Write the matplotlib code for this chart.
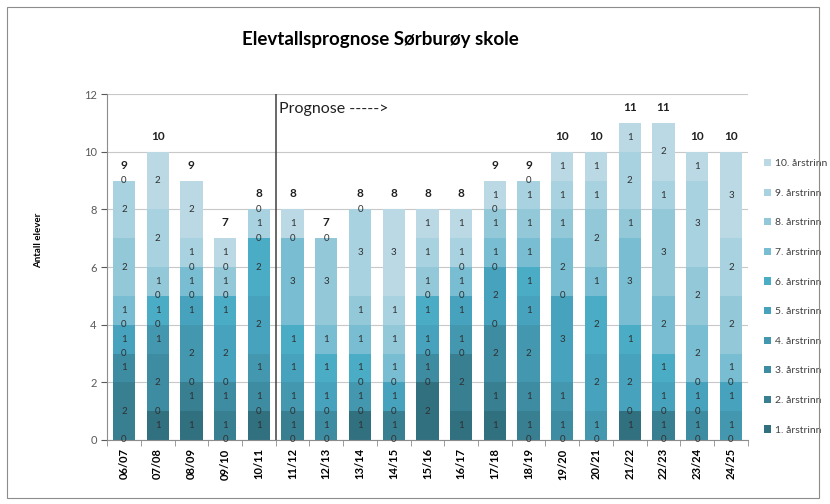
"""
Elevtallsprognose Sørburøy skole - stablede søyler per årstrinn
"""
import matplotlib
matplotlib.use("Agg")
import matplotlib.pyplot as plt
import numpy as np
from matplotlib.patches import Rectangle

plt.rcParams['font.family'] = ['Lato', 'DejaVu Sans']

years = ["06/07", "07/08", "08/09", "09/10", "10/11", "11/12", "12/13", "13/14", "14/15",
         "15/16", "16/17", "17/18", "18/19", "19/20", "20/21", "21/22", "22/23", "23/24", "24/25"]
grades = ["1. årstrinn", "2. årstrinn", "3. årstrinn", "4. årstrinn", "5. årstrinn",
          "6. årstrinn", "7. årstrinn", "8. årstrinn", "9. årstrinn", "10. årstrinn"]

# elever per årstrinn (1..10) for hvert skoleår
trinn1 = [0, 1, 1, 0, 1, 0, 0, 1, 0, 2, 1, 1, 0, 0, 0, 1, 0, 0, 0]
trinn2 = [2, 0, 1, 1, 0, 1, 0, 0, 1, 0, 2, 1, 1, 0, 0, 0, 1, 0, 0]
trinn3 = [1, 2, 0, 1, 1, 0, 1, 0, 0, 1, 0, 2, 1, 1, 0, 0, 0, 1, 0]
trinn4 = [0, 1, 2, 0, 1, 1, 0, 1, 0, 0, 1, 0, 2, 1, 1, 0, 0, 0, 1]
trinn5 = [1, 0, 1, 2, 2, 1, 1, 0, 1, 1, 1, 2, 1, 3, 2, 2, 1, 1, 1]
trinn6 = [0, 1, 0, 1, 2, 1, 1, 1, 0, 1, 0, 0, 1, 0, 2, 1, 1, 0, 0]
trinn7 = [1, 0, 1, 0, 0, 3, 1, 1, 1, 0, 1, 1, 1, 2, 1, 3, 2, 2, 1]
trinn8 = [2, 1, 0, 1, 0, 0, 3, 1, 1, 1, 0, 1, 1, 1, 2, 1, 3, 2, 2]
trinn9 = [2, 2, 1, 0, 1, 0, 0, 3, 1, 1, 1, 0, 1, 1, 1, 2, 1, 3, 2]
trinn10 = [0, 2, 2, 1, 0, 1, 0, 0, 3, 1, 1, 1, 0, 1, 1, 1, 2, 1, 3]

colors = ['#31707f', '#387f92', '#3e8ca2', '#4398b0', '#47a3bd',
          '#4bacc6', '#78bdd1', '#93c8d9', '#a8d2e0', '#bad9e5']

data = np.array([trinn1, trinn2, trinn3, trinn4, trinn5,
                 trinn6, trinn7, trinn8, trinn9, trinn10])
x = np.arange(len(years))

fig = plt.figure(figsize=(8.3, 5.04), dpi=100)
fig.patches.append(Rectangle((0.009, 0.012), 0.978, 0.975, transform=fig.transFigure,
                             fill=False, edgecolor='#8c8c8c', linewidth=0.8))
ax = fig.add_axes([0.129, 0.127, 0.772, 0.686])

bottom = np.zeros(len(years))
handles = []
seen = set()  # nullverdier som havner på samme sted skrives bare én gang
for i in range(10):
    b = ax.bar(x, data[i], 0.66, bottom=bottom, color=colors[i], label=grades[i], zorder=2)
    handles.append(b)
    for xi, v, b0 in zip(x, data[i], bottom):
        key = (xi, b0 + v / 2)
        if key in seen:
            continue
        seen.add(key)
        ax.text(xi, b0 + v / 2, str(v), ha='center', va='center', fontsize=7,
                color='#303030', zorder=3)
    bottom += data[i]

for xi, tot in zip(x, bottom):
    ax.text(xi, tot + 0.35, str(int(tot)), ha='center', va='bottom', fontsize=8.5,
            fontweight='bold', color='#202020')

ax.axvline(4.5, color='#404040', linewidth=1.1, zorder=4)
ax.text(4.6, 11.5, "Prognose ----->", fontsize=11.5, va='center', ha='left', color='#202020')

ax.set_xlim(-0.5, len(years) - 0.5)
ax.set_ylim(0, 12)
ax.set_yticks(range(0, 13, 2))
ax.yaxis.grid(True, color='#c8c8c8', linewidth=0.8, zorder=0)
ax.set_axisbelow(True)
ax.set_xticks(x)
ax.set_xticklabels(years, rotation=90, fontsize=8, fontweight='bold')
ax.set_xticks(np.arange(-0.5, len(years), 1), minor=True)
ax.tick_params(axis='x', which='major', length=0, pad=6)
ax.tick_params(axis='x', which='minor', length=4, color='#8c8c8c')
ax.tick_params(axis='y', labelsize=8, colors='#595959', length=4)
for s in ['top', 'right']:
    ax.spines[s].set_visible(False)
for s in ['left', 'bottom']:
    ax.spines[s].set_color('#8c8c8c')

fig.text(0.046, 0.524, "Antall elever", rotation=90, ha='center', va='center',
         fontsize=7, fontweight='bold')
fig.text(0.458, 0.922, "Elevtallsprognose Sørburøy skole", ha='center', va='center',
         fontsize=13.5, fontweight='bold')

leg = ax.legend(handles[::-1], grades[::-1], loc='upper left', bbox_to_anchor=(1.01, 0.84),
                frameon=False, fontsize=7.5, labelspacing=1.95, handlelength=0.7,
                handleheight=0.7, handletextpad=0.4)
for t in leg.get_texts():
    t.set_color('#404040')

plt.savefig("out.png", dpi=100)
